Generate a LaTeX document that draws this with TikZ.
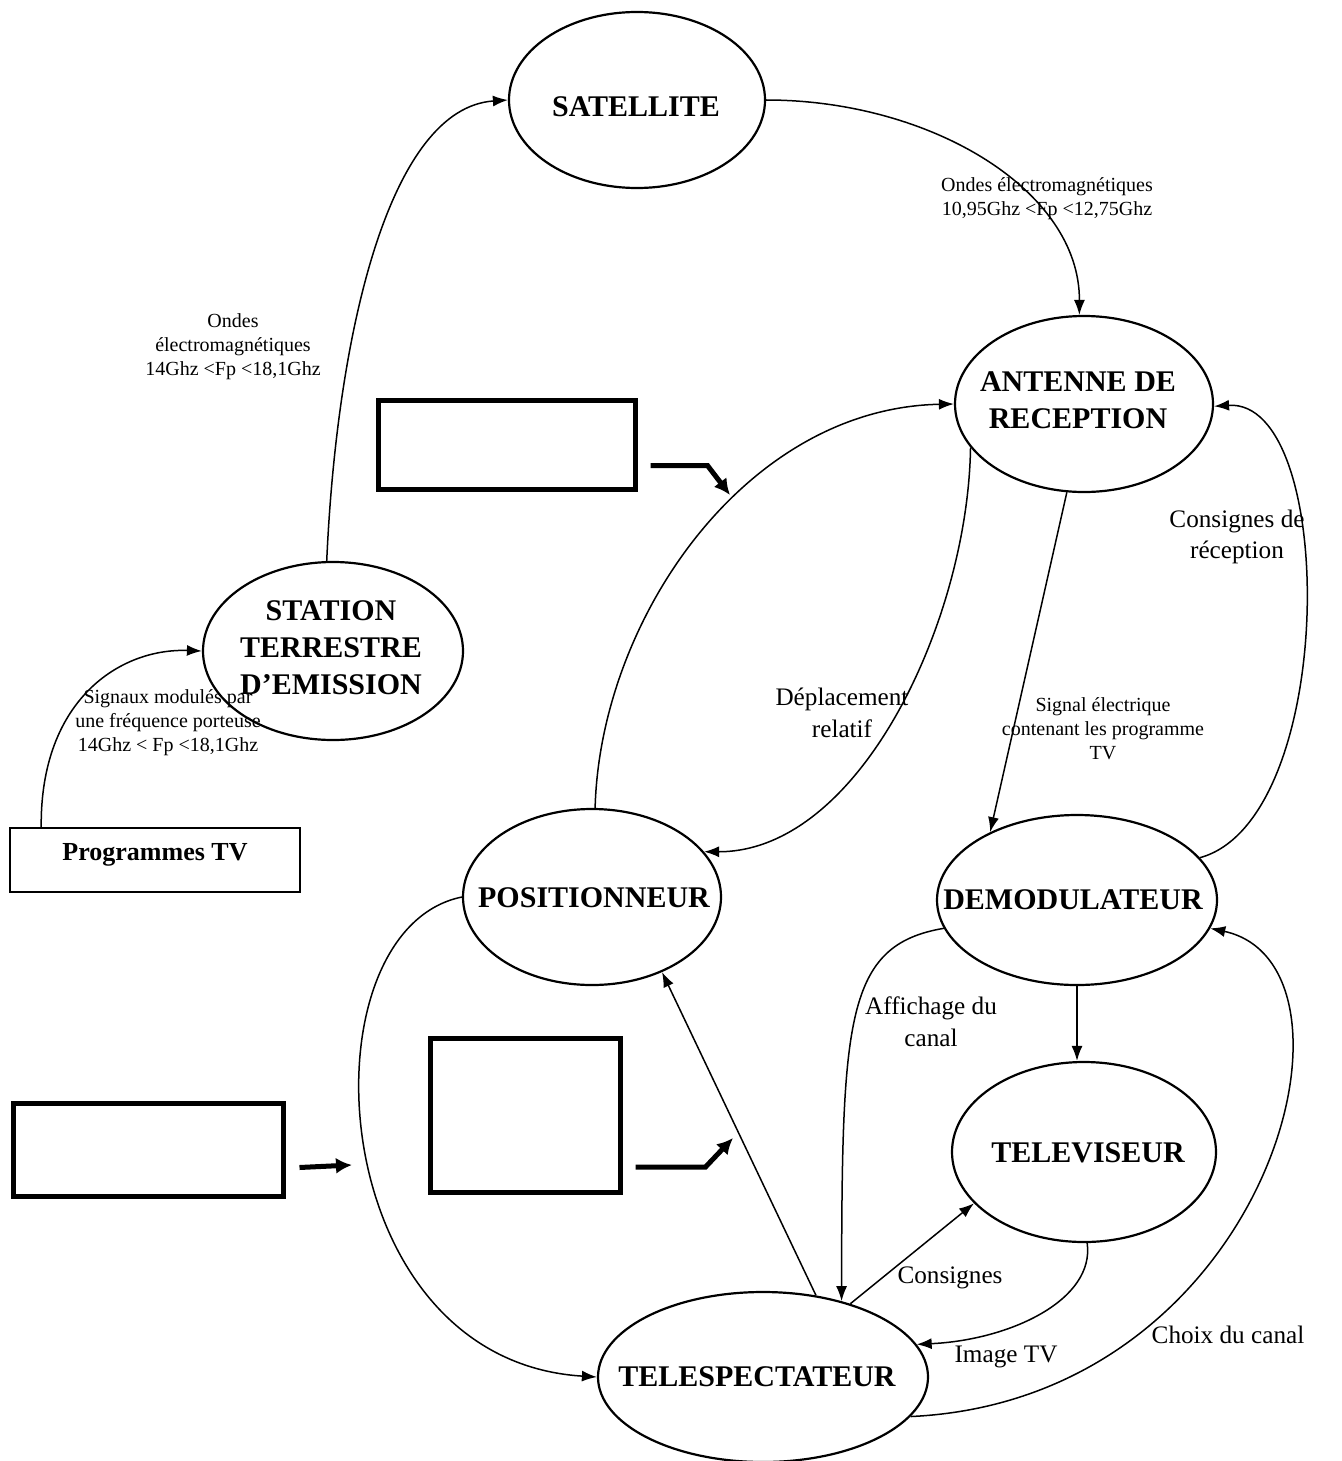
\documentclass[tikz,border=0pt]{standalone}
\usepackage{fontspec}
\setmainfont{Liberation Serif}
\usetikzlibrary{shapes.geometric,arrows.meta,calc}
\begin{document}
\begin{tikzpicture}[x=0.5pt,y=-0.5pt,
  ell/.style={draw,ellipse,line width=1.1pt,inner sep=0pt},
  ntext/.style={font=\fontsize{15}{18.5}\selectfont\bfseries,align=center,inner sep=0pt},
  small/.style={font=\fontsize{10}{12}\selectfont,align=center,inner sep=0pt},
  mid/.style={font=\fontsize{12.6}{15.8}\selectfont,align=center,inner sep=0pt},
  conn/.style={line width=0.75pt,-{Latex[length=7.5pt,width=5.5pt]}},
  thickbox/.style={draw,line width=2.5pt,inner sep=0pt},
  thickarrow/.style={line width=2.5pt,-{Latex[length=8pt,width=8pt]}}
]
\useasboundingbox (0,0) rectangle (1342,1461);
\fill[white] (0,0) rectangle (1342,1461);

% ellipses
\node[ell,minimum width=128pt,minimum height=88pt] (sat) at (637,100) {};
\node[ell,minimum width=129pt,minimum height=88pt] (ant) at (1084,404) {};
\node[ell,minimum width=130pt,minimum height=89pt] (sta) at (333,651) {};
\node[ell,minimum width=129pt,minimum height=88pt] (pos) at (592,897) {};
\node[ell,minimum width=140pt,minimum height=85pt] (dem) at (1077,900) {};
\node[ell,minimum width=132pt,minimum height=90pt] (tv) at (1084,1152) {};
\node[ell,minimum width=165pt,minimum height=85pt] (tel) at (763,1377) {};

\node[ntext] (tsat) at (636,107) {SATELLITE};
\node[ntext] (tant) at (1078,400) {ANTENNE DE\\RECEPTION};
\node[ntext] (tsta) at (331,648) {STATION\\TERRESTRE\\D’EMISSION};
\node[ntext] (tpos) at (594,898) {POSITIONNEUR};
\node[ntext] (tdem) at (1073,900) {DEMODULATEUR};
\node[ntext] (ttv) at (1088,1153) {TELEVISEUR};
\node[ntext] (ttel) at (757,1377) {TELESPECTATEUR};

% boxes
\node[draw,line width=0.8pt,minimum width=145pt,minimum height=32pt,inner sep=0pt] (prog) at (155,860) {};
\node[font=\fontsize{13}{15}\selectfont\bfseries,inner sep=0pt] (tprog) at (155,855) {Programmes TV};
\node[thickbox,minimum width=128.5pt,minimum height=44.5pt] (box1) at (506.5,444.5) {};
\node[thickbox,minimum width=135pt,minimum height=46.5pt] (box2) at (148,1149.5) {};
\node[thickbox,minimum width=95pt,minimum height=77pt] (box3) at (525,1115) {};

% thick arrows
\coordinate (a1s) at ($(box1.south east)+(13,-26)$);
\coordinate (a1e) at (730,495);
\draw[thickarrow] (a1s) -- ++(57,0) -- (a1e);
\coordinate (a2s) at ($(box2.east)+(14,18)$);
\coordinate (a2e) at (352,1165);
\draw[thickarrow] (a2s) -- (a2e);
\coordinate (a3s) at ($(box3.east)+(13,52)$);
\coordinate (a3e) at (733,1138);
\draw[thickarrow] (a3s) -- ++(70,0) -- (a3e);

% connectors
\draw[conn] (sta.94) .. controls (337,330) and (390,108) .. (sat.west);
\draw[conn] (sat.east) .. controls (930,100) and (1080,190) .. (ant.93);
\draw[conn] ($(prog.north west)+(32,0)$) .. controls (40,700) and (120,648) .. (sta.west);
\draw[conn] (pos.88) .. controls (600,620) and (745,408) .. (ant.west);
\draw[conn] (ant.201) .. controls (968,620) and (860,852) .. (pos.22);
\draw[conn] (ant.259) -- (dem.142);
\draw[conn] (dem.19) .. controls (1338,820) and (1338,398) .. (ant.-1);
\draw[conn] (pos.west) .. controls (300,930) and (320,1360) .. (tel.west);
\draw[conn] (tel.57) -- (pos.-47);
\draw[conn] (dem.192) .. controls (845,945) and (842,1020) .. (tel.44);
\draw[conn] (dem.south) -- (dem.south |- tv.north);
\draw[conn] (tel.40) -- (tv.205);
\draw[conn] (tv.272) .. controls (1095,1300) and (1010,1340) .. (tel.12);
\draw[conn] (tel.-15) .. controls (1270,1400) and (1380,965) .. (dem.-12);

% labels
\node[small] (l1) at (1047,199) {Ondes électromagnétiques\\10,95Ghz <Fp <12,75Ghz};
\node[small] (l2) at (233,347) {Ondes\\électromagnétiques\\14Ghz <Fp <18,1Ghz};
\node[small] (l3) at (168,723) {Signaux modulés par\\une fréquence porteuse\\14Ghz < Fp <18,1Ghz};
\node[small] (l4) at (1103,729) {Signal électrique\\contenant les programme\\TV};
\node[mid] (l5) at (842,713) {Déplacement\\relatif};
\node[mid] (l6) at (1237,537) {Consignes de\\réception};
\node[mid] (l7) at (931,1022) {Affichage du\\canal};
\node[mid] (l8) at (950,1278) {Consignes};
\node[mid] (l9) at (1006,1357) {Image TV};
\node[mid] (l10) at (1228,1335) {Choix du canal};
\end{tikzpicture}
\end{document}
